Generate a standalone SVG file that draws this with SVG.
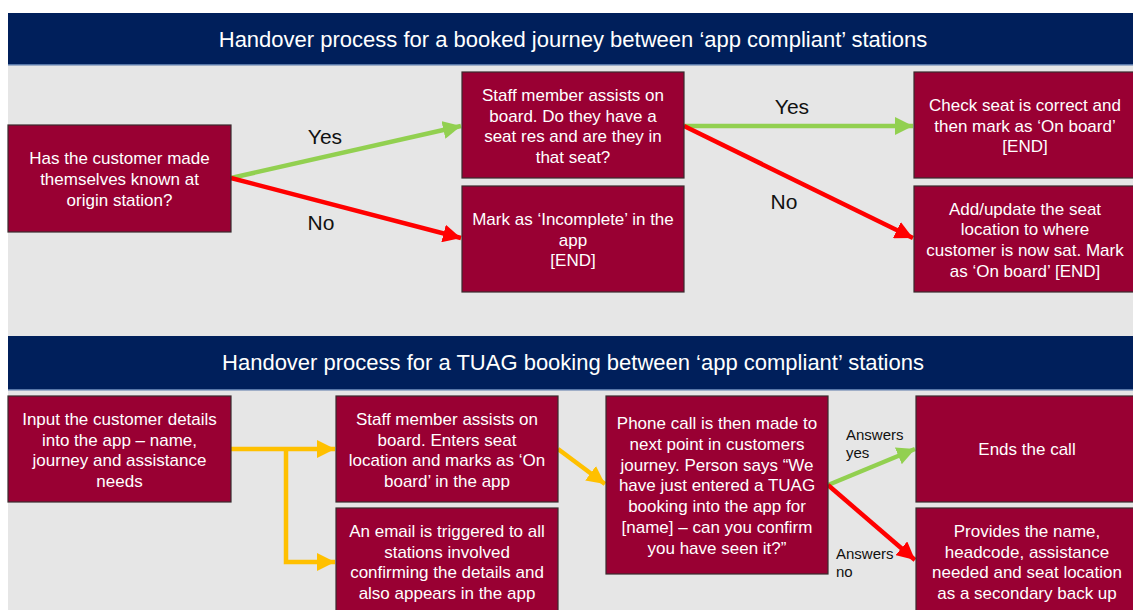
<svg xmlns="http://www.w3.org/2000/svg" width="1133" height="610" viewBox="0 0 1133 610">
<defs>
<style>
.node{fill:#990033;stroke:#3a2a2e;stroke-width:1.2}
.nt{fill:#ffffff;font-family:"Liberation Sans",Arial,sans-serif;font-size:17px;text-anchor:middle}
.ht{fill:#ffffff;font-family:"Liberation Sans",Arial,sans-serif;font-size:22px;text-anchor:middle}
.lbl{fill:#111111;font-family:"Liberation Sans",Arial,sans-serif;font-size:21px;text-anchor:middle}
.sl{fill:#111111;font-family:"Liberation Sans",Arial,sans-serif;font-size:15px}
.g{stroke:#92d050;stroke-width:4.5;fill:none}
.r{stroke:#ff0000;stroke-width:4.5;fill:none}
.o{stroke:#ffc000;stroke-width:4.5;fill:none}
</style>
<marker id="ag" markerUnits="userSpaceOnUse" markerWidth="18" markerHeight="18" viewBox="0 0 18 18" refX="18" refY="9" orient="auto"><path d="M0,0 L18,9 L0,18 Z" fill="#92d050"/></marker>
<marker id="ar" markerUnits="userSpaceOnUse" markerWidth="18" markerHeight="18" viewBox="0 0 18 18" refX="18" refY="9" orient="auto"><path d="M0,0 L18,9 L0,18 Z" fill="#ff0000"/></marker>
<marker id="ao" markerUnits="userSpaceOnUse" markerWidth="18" markerHeight="18" viewBox="0 0 18 18" refX="18" refY="9" orient="auto"><path d="M0,0 L18,9 L0,18 Z" fill="#ffc000"/></marker>
</defs>
<rect x="0" y="0" width="1133" height="610" fill="#ffffff"/>
<rect x="8" y="65" width="1125" height="545" fill="#e6e6e6"/>

<g id="header1">
<rect x="8" y="13" width="1125" height="52" fill="#001f5b"/>
<rect x="8" y="64" width="1125" height="1.5" fill="#5877a8"/>
<text class="ht" x="573" y="47">Handover process for a booked journey between ‘app compliant’ stations</text>
</g>
<g id="header2">
<rect x="8" y="336" width="1125" height="54" fill="#001f5b"/>
<rect x="8" y="389" width="1125" height="1.5" fill="#5877a8"/>
<text class="ht" x="573" y="370">Handover process for a TUAG booking between ‘app compliant’ stations</text>
</g>

<g id="connectors">
<line class="g" x1="231" y1="178" x2="461" y2="126" marker-end="url(#ag)"/>
<line class="r" x1="231" y1="178" x2="461" y2="238" marker-end="url(#ar)"/>
<line class="g" x1="684" y1="126" x2="913" y2="126" marker-end="url(#ag)"/>
<line class="r" x1="684" y1="126" x2="913" y2="238" marker-end="url(#ar)"/>
<line class="o" x1="231" y1="449" x2="335" y2="449" marker-end="url(#ao)"/>
<polyline class="o" points="286,449 286,562 335,562" marker-end="url(#ao)"/>
<line class="o" x1="558" y1="449" x2="605" y2="484" marker-end="url(#ao)"/>
<line class="g" x1="828" y1="485" x2="915" y2="449" marker-end="url(#ag)"/>
<line class="r" x1="828" y1="485" x2="915" y2="560" marker-end="url(#ar)"/>
<text class="lbl" x="325" y="144">Yes</text>
<text class="lbl" x="321" y="230">No</text>
<text class="lbl" x="792" y="114">Yes</text>
<text class="lbl" x="784" y="209">No</text>
<text class="sl" x="846" y="440">Answers</text>
<text class="sl" x="846" y="458">yes</text>
<text class="sl" x="836" y="559">Answers</text>
<text class="sl" x="836" y="577">no</text>
</g>

<g id="nodeA">
<rect class="node" x="8" y="125" width="223" height="107"/>
<text class="nt" x="119.5" y="164">Has the customer made</text>
<text class="nt" x="119.5" y="185">themselves known at</text>
<text class="nt" x="119.5" y="206">origin station?</text>
</g>
<g id="nodeB">
<rect class="node" x="462" y="72" width="222" height="106"/>
<text class="nt" x="573" y="101">Staff member assists on</text>
<text class="nt" x="573" y="122">board. Do they have a</text>
<text class="nt" x="573" y="142">seat res and are they in</text>
<text class="nt" x="573" y="163">that seat?</text>
</g>
<g id="nodeC">
<rect class="node" x="462" y="186" width="222" height="106"/>
<text class="nt" x="573" y="225">Mark as ‘Incomplete’ in the</text>
<text class="nt" x="573" y="246">app</text>
<text class="nt" x="573" y="266">[END]</text>
</g>
<g id="nodeD">
<rect class="node" x="914" y="72" width="225" height="106"/>
<text class="nt" x="1025" y="111">Check seat is correct and</text>
<text class="nt" x="1025" y="132">then mark as ‘On board’</text>
<text class="nt" x="1025" y="152">[END]</text>
</g>
<g id="nodeE">
<rect class="node" x="914" y="186" width="225" height="106"/>
<text class="nt" x="1025" y="215">Add/update the seat</text>
<text class="nt" x="1025" y="235">location to where</text>
<text class="nt" x="1025" y="256">customer is now sat. Mark</text>
<text class="nt" x="1025" y="277">as ‘On board’ [END]</text>
</g>

<g id="nodeF">
<rect class="node" x="8" y="396" width="223" height="106"/>
<text class="nt" x="119.5" y="425">Input the customer details</text>
<text class="nt" x="119.5" y="446">into the app – name,</text>
<text class="nt" x="119.5" y="466">journey and assistance</text>
<text class="nt" x="119.5" y="487">needs</text>
</g>
<g id="nodeG">
<rect class="node" x="336" y="396" width="222" height="106"/>
<text class="nt" x="447" y="425">Staff member assists on</text>
<text class="nt" x="447" y="446">board. Enters seat</text>
<text class="nt" x="447" y="466">location and marks as ‘On</text>
<text class="nt" x="447" y="487">board’ in the app</text>
</g>
<g id="nodeH">
<rect class="node" x="336" y="508" width="222" height="110"/>
<text class="nt" x="447" y="537">An email is triggered to all</text>
<text class="nt" x="447" y="558">stations involved</text>
<text class="nt" x="447" y="578">confirming the details and</text>
<text class="nt" x="447" y="599">also appears in the app</text>
</g>
<g id="nodeI">
<rect class="node" x="606" y="396" width="222" height="178"/>
<text class="nt" x="717" y="429">Phone call is then made to</text>
<text class="nt" x="717" y="450">next point in customers</text>
<text class="nt" x="717" y="471">journey. Person says “We</text>
<text class="nt" x="717" y="491">have just entered a TUAG</text>
<text class="nt" x="717" y="512">booking into the app for</text>
<text class="nt" x="717" y="533">[name] – can you confirm</text>
<text class="nt" x="717" y="554">you have seen it?”</text>
</g>
<g id="nodeJ">
<rect class="node" x="916" y="396" width="223" height="106"/>
<text class="nt" x="1027" y="455">Ends the call</text>
</g>
<g id="nodeK">
<rect class="node" x="916" y="508" width="223" height="110"/>
<text class="nt" x="1027" y="537">Provides the name,</text>
<text class="nt" x="1027" y="558">headcode, assistance</text>
<text class="nt" x="1027" y="578">needed and seat location</text>
<text class="nt" x="1027" y="599">as a secondary back up</text>
</g>
</svg>
